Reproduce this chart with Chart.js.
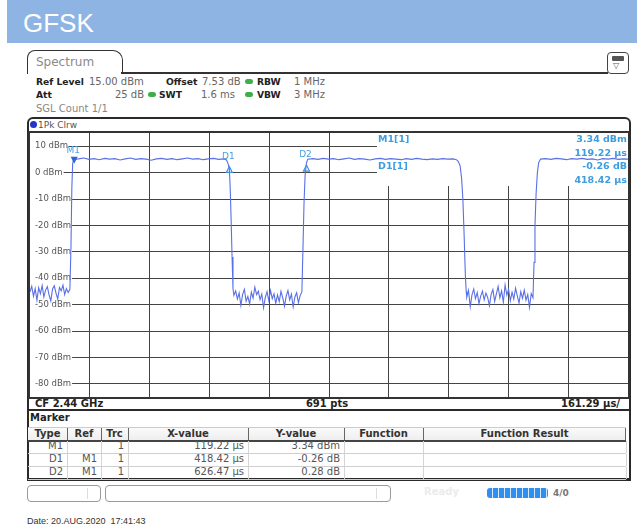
<!DOCTYPE html>
<html><head><meta charset="utf-8">
<script src="https://cdn.jsdelivr.net/npm/chart.js@4.4.1/dist/chart.umd.min.js"></script>
<style>
html,body{margin:0;padding:0;background:#fff;}
body{width:637px;height:531px;position:relative;overflow:hidden;font-family:"DejaVu Sans",sans-serif;}
.a{position:absolute;white-space:nowrap;line-height:12px;height:12px;font-size:10px;color:#666;}
.b{font-weight:bold;color:#222;}
.h{font-size:9.2px;}
.dot{position:absolute;width:8px;height:5px;border-radius:3px;background:#3fae4a;}
.box{position:absolute;box-sizing:border-box;}
</style></head>
<body>
<div class="box" style="left:7px;top:0;width:630px;height:43px;background:#8eb4e3"></div>
<div class="a" style="left:23px;top:9px;height:28px;line-height:28px;font-family:'Liberation Sans',Arial,sans-serif;font-size:26px;color:#fff">GFSK</div>

<div class="box" style="left:27px;top:50px;width:96px;height:24px;border:1.5px solid #333;border-bottom:none;border-radius:8px 10px 0 0"></div>
<div class="a" style="left:36px;top:55px;font-size:12px;line-height:14px;height:14px;color:#8a8a8a">Spectrum</div>
<div class="box" style="left:121px;top:72px;width:487px;height:1.5px;background:#333"></div>
<div class="box" style="left:607px;top:52px;width:22px;height:22px;border:1.5px solid #444;border-radius:4px"></div>
<div class="box" style="left:612px;top:56px;width:12px;height:5px;background:#555;border-radius:1px"></div>
<div class="a" style="left:613px;top:60px;font-size:8px;color:#555">▽</div>

<div class="a b h" style="left:36px;top:76px">Ref Level</div>
<div class="a" style="left:89px;top:76px">15.00 dBm</div>
<div class="a b h" style="left:166px;top:76px">Offset</div>
<div class="a" style="left:202px;top:76px">7.53 dB</div>
<div class="dot" style="left:245px;top:79px"></div>
<div class="a b h" style="left:257px;top:76px">RBW</div>
<div class="a" style="left:294px;top:76px">1 MHz</div>

<div class="a b h" style="left:36px;top:89px">Att</div>
<div class="a" style="left:114px;top:89px;width:30px;text-align:right">25 dB</div>
<div class="dot" style="left:148px;top:92px"></div>
<div class="a b h" style="left:159px;top:89px">SWT</div>
<div class="a" style="left:201px;top:89px">1.6 ms</div>
<div class="dot" style="left:245px;top:92px"></div>
<div class="a b h" style="left:257px;top:89px">VBW</div>
<div class="a" style="left:294px;top:89px">3 MHz</div>

<div class="a" style="left:36px;top:103px;color:#888">SGL Count 1/1</div>

<div class="box" style="left:27px;top:117px;width:604px;height:364px;border:2px solid #2a2a2a;border-bottom-width:3px;border-radius:6px 6px 0 0"></div>
<div class="box" style="left:30px;top:121px;width:7px;height:7px;border-radius:50%;background:#2236c8"></div>
<div class="a" style="left:38px;top:119px;font-size:9px;color:#555">1Pk Clrw</div>

<div class="box" style="left:28px;top:131px;width:602px;height:268px;border:2px solid #333"></div>
<div class="box" style="left:30px;top:133px;width:598px;height:264px"><canvas id="c" width="598" height="264"></canvas></div>

<div class="a b" style="left:35px;top:398px">CF 2.44 GHz</div>
<div class="a b" style="left:287px;top:398px;width:80px;text-align:center">691 pts</div>
<div class="a b" style="left:520px;top:398px;width:100px;text-align:right">161.29 µs/</div>
<div class="box" style="left:28px;top:409px;width:602px;height:2px;background:#2a2a2a"></div>
<div class="a b" style="left:30px;top:412px">Marker</div>
<div id="tbl"></div>

<div class="box" style="left:27px;top:485px;width:74px;height:17px;border:1px solid #9a9a9a;border-radius:4px"></div>
<div class="box" style="left:87px;top:488px;width:1px;height:11px;background:#ddd"></div>
<div class="box" style="left:105px;top:485px;width:286px;height:17px;border:1px solid #9a9a9a;border-radius:4px"></div>
<div class="box" style="left:376px;top:488px;width:1px;height:11px;background:#ddd"></div>
<div class="a b" style="left:424px;top:486px;color:#ececec">Ready</div>
<div class="box" style="left:487px;top:488px;width:61px;height:10px;border-radius:3px;background:repeating-linear-gradient(90deg,#2f8ff0 0,#2f8ff0 5px,#d6e8fb 5px,#d6e8fb 6px)"></div>
<div class="a b" style="left:553px;top:487px;font-size:9px;color:#777">4/0</div>

<div class="a" style="left:27px;top:515px;font-family:'Liberation Sans',Arial,sans-serif;font-size:9px;color:#333">Date: 20.AUG.2020&nbsp; 17:41:43</div>

<script>
// ---- data ----
const sweepUs = 1612.9;                 // 10 div x 161.29 us
const timeGridUs = [161.29, 322.58, 483.87, 645.16, 806.45, 967.74, 1129.03, 1290.32, 1451.61];
const levelTicksDbm = [10, 0, -10, -20, -30, -40, -50, -60, -70, -80];
const refLevelDbm = 15, bottomLevelDbm = -85;

// trace samples: [time us, level dBm]
const traceSamples = [
 [0,-45.2],[4.7,-43.1],[9.4,-46.8],[14,-44.0],[18.7,-48.3],[23.4,-43.6],[28,-45.9],[32.7,-42.8],
 [37.4,-47.1],[42,-44.5],[46.8,-43.2],[51.5,-46.4],[56.1,-48.6],[60.8,-44.1],[65.5,-42.9],[70.2,-45.7],
 [74.8,-47.9],[79.5,-43.5],[84.2,-44.8],[88.9,-42.6],[93.5,-46.2],[98.2,-43.9],[102.9,-45.4],[107.6,-44.2],
 [110.5,-28],[112.8,-6],[115.1,3.4],[117.5,5.0],
 [131,5.2],[145,5.5],[159,5.0],[173,5.3],[187,4.9],[201,5.4],[215,5.1],[229,5.3],[243,4.8],[257,5.2],
 [271,5.5],[285,5.0],[299,5.3],[313,5.1],[327,4.7],[341,5.2],[355,5.4],[369,5.0],[383,5.3],[397,4.9],
 [411,5.2],[425,5.5],[439,5.1],[453,5.3],[467,4.9],[481,5.2],[495,5.4],[509,5.0],[523,5.2],[530,4.8],
 [534,3.5],[537.6,1.5],[540,-6],[542.5,-18],[545,-32],[547.5,-44],
 [550,-46.5],[554.7,-44.8],[559.4,-47.9],[564,-45.6],[568.8,-50.3],[573.5,-46.1],[578.2,-44.2],[582.9,-48.7],
 [587.6,-46.9],[592.3,-49.8],[597,-45.3],[601.7,-47.6],[606.4,-43.4],[611.1,-46.2],[615.8,-44.9],[620.5,-48.1],
 [625.2,-46.0],[629.9,-51.2],[634.6,-47.3],[639.3,-45.1],[644,-48.4],[648.7,-44.6],[653.4,-47.8],[658.1,-45.9],
 [662.8,-49.5],[667.5,-46.3],[672.2,-48.9],[676.9,-45.0],[681.6,-47.4],[686.3,-50.6],[691,-46.8],[695.7,-44.7],
 [700.4,-48.2],[705.1,-46.0],[709.8,-50.9],[714.5,-47.1],[719.2,-45.5],[723.9,-49.3],[728.6,-46.6],[733.3,-45.2],
 [736,-30],[739,-12],[742,-1],[745.5,3.6],[749,5.1],
 [763,5.3],[777,5.0],[791,5.4],[805,5.1],[819,5.3],[833,4.9],[847,5.2],[861,5.5],[875,5.0],[889,5.3],
 [903,5.1],[917,4.8],[931,5.2],[945,5.4],[959,5.0],[973,5.3],[987,5.1],[1001,4.9],[1015,5.3],[1029,5.0],
 [1043,5.4],[1057,5.1],[1071,4.9],[1085,5.2],[1099,5.0],[1113,5.3],[1127,5.1],[1141,5.2],[1150,4.9],
 [1155,4.3],[1160,2.6],[1164,-2],[1167.5,-10],[1171,-24],[1174,-38],[1176.5,-45],
 [1178,-47.2],[1182.7,-44.6],[1187.4,-50.8],[1192.1,-46.3],[1196.8,-44.1],[1201.5,-47.7],[1206.2,-45.4],[1210.9,-49.6],
 [1215.6,-46.8],[1220.3,-44.9],[1225,-48.2],[1229.7,-45.6],[1234.4,-47.3],[1239.1,-50.4],[1243.8,-46.1],[1248.5,-44.3],
 [1253.2,-48.8],[1257.9,-45.9],[1262.6,-43.1],[1267.3,-47.5],[1272,-44.8],[1276.7,-49.1],[1281.4,-42.6],[1286.1,-46.4],
 [1290.8,-44.2],[1295.5,-48.6],[1300.2,-45.3],[1304.9,-47.9],[1309.6,-43.8],[1314.3,-46.7],[1319,-49.4],[1323.7,-45.1],
 [1328.4,-47.6],[1333.1,-44.5],[1337.8,-48.3],[1342.5,-46.2],[1347.2,-51.0],[1351.9,-45.8],[1356.6,-47.4],
 [1359.5,-34],[1362,-20],[1365,-8],[1368.5,0],[1372,3.8],[1377,5.1],
 [1391,5.3],[1405,5.0],[1419,5.4],[1433,5.2],[1447,4.9],[1461,5.3],[1475,5.1],[1489,5.4],[1503,5.0],
 [1517,5.2],[1531,4.8],[1545,5.3],[1559,5.1],[1573,5.4],[1587,5.0],[1601,5.2],[1612.9,5.1]
];

// marker table
const mkType  = ['M1', 'D1', 'D2'];
const mkRef   = ['', 'M1', 'M1'];
const mkTrc   = ['1', '1', '1'];
const mkXus   = [119.22, 418.42, 626.47];
const mkYval  = [3.34, -0.26, 0.28];
const mkYunit = ['dBm', 'dB', 'dB'];
const tableHeaders = ['Type', 'Ref', 'Trc', 'X-value', 'Y-value', 'Function', 'Function Result'];
const readoutLabels = ['M1[1]', 'D1[1]'];
const readoutValues = ['3.34 dBm', '119.22 µs', '-0.26 dB', '418.42 µs'];

// ---- table ----
(function(){
  const cols = [28, 67, 101, 128, 248, 344, 423, 626];
  const tbl = document.getElementById('tbl');
  const add = (html) => tbl.insertAdjacentHTML('beforeend', html);
  add(`<div class="box" style="left:28px;top:427px;width:598px;height:13px;background:linear-gradient(#fafafa,#eee);border-top:1px solid #ccc"></div>`);
  add(`<div class="box" style="left:28px;top:440px;width:598px;height:1.5px;background:#444"></div>`);
  tableHeaders.forEach((h, i) => {
    add(`<div class="a b" style="left:${cols[i]}px;top:428px;width:${cols[i+1]-cols[i]}px;text-align:center;color:#333">${h}</div>`);
    if (i > 0) add(`<div class="box" style="left:${cols[i]}px;top:428px;width:1.2px;height:12px;background:#666"></div>`);
  });
  add(`<div class="box" style="left:625px;top:428px;width:1.2px;height:12px;background:#666"></div>`);
  const fmt = v => v.toFixed(2);
  mkType.forEach((t, r) => {
    const top = 440 + r * 13;
    const cells = [t, mkRef[r], mkTrc[r], fmt(mkXus[r]) + ' µs', fmt(mkYval[r]) + ' ' + mkYunit[r], '', ''];
    cells.forEach((c, i) => {
      if (c) add(`<div class="a" style="left:${cols[i]}px;top:${top}px;width:${cols[i+1]-cols[i]-4}px;text-align:right;color:#555">${c}</div>`);
    });
    add(`<div class="box" style="left:28px;top:${top+12.5}px;width:598px;height:1px;background:#cfcfcf"></div>`);
    cols.forEach((x, i) => { if (i > 0) add(`<div class="box" style="left:${x}px;top:${top+1}px;width:1px;height:12px;background:#d4d4d4"></div>`); });
  });
})();

// ---- chart ----
const markerTimes = [mkXus[0], mkXus[0] + mkXus[1], mkXus[0] + mkXus[2]];
const markerLevels = [mkYval[0], mkYval[0] + mkYval[1], mkYval[0] + mkYval[2]];

const overlay = {
  id: 'overlay',
  beforeDatasetsDraw(chart) {
    const {ctx, chartArea: a} = chart;
    ctx.save();
    ctx.fillStyle = '#fff';
    ctx.fillRect(a.left + 347, a.top, a.right - a.left - 347, 53);
    ctx.fillStyle = '#3d9de0';
    ctx.font = 'bold 9.5px "DejaVu Sans"';
    ctx.textBaseline = 'middle';
    ctx.textAlign = 'left';
    ctx.fillText(readoutLabels[0], a.left + 348, a.top + 7);
    ctx.fillText(readoutLabels[1], a.left + 348, a.top + 34);
    ctx.textAlign = 'right';
    readoutValues.forEach((s, i) => ctx.fillText(s, a.right - 1, a.top + 7 + i * 13.4));
    ctx.restore();
  },
  afterDatasetsDraw(chart) {
    const {ctx, scales: {x, y}} = chart;
    ctx.save();
    ctx.font = '9px "DejaVu Sans"';
    ctx.textAlign = 'center';
    ctx.textBaseline = 'middle';
    mkType.forEach((n, i) => {
      const px = x.getPixelForValue(markerTimes[i]);
      const py = y.getPixelForValue(markerLevels[i]);
      ctx.beginPath();
      if (i === 0) {
        ctx.fillStyle = '#2f64d8';
        ctx.moveTo(px - 3.5, py - 7); ctx.lineTo(px + 3.5, py - 7); ctx.lineTo(px, py);
        ctx.closePath(); ctx.fill();
        ctx.fillStyle = '#4aa0e0';
        ctx.fillText(n, px - 1, py - 13);
      } else {
        ctx.strokeStyle = '#3f8ee0'; ctx.lineWidth = 1.2;
        ctx.moveTo(px - 3, py + 8); ctx.lineTo(px + 3, py + 8); ctx.lineTo(px, py + 2);
        ctx.closePath(); ctx.stroke();
        ctx.fillStyle = '#4aa0e0';
        ctx.fillText(n, px - 1, py - 8);
      }
    });
    ctx.restore();
  }
};

const gridOpts = {color: '#444', lineWidth: 1, drawTicks: false, tickLength: 0};
new Chart(document.getElementById('c'), {
  type: 'line',
  data: {datasets: [{
    data: traceSamples.map(p => ({x: p[0], y: p[1]})),
    borderColor: '#5a70e6', borderWidth: 1.1, pointRadius: 0, tension: 0, fill: false
  }]},
  options: {
    responsive: false, animation: false, events: [],
    layout: {padding: 0},
    plugins: {legend: {display: false}, tooltip: {enabled: false}},
    scales: {
      x: {
        type: 'linear', min: 0, max: sweepUs,
        afterBuildTicks: s => { s.ticks = timeGridUs.map(v => ({value: v})); },
        afterFit: s => { s.height = 0; s.paddingLeft = 0; s.paddingRight = 0; },
        ticks: {display: false}, grid: gridOpts, border: {display: false}
      },
      y: {
        type: 'linear', min: bottomLevelDbm, max: refLevelDbm,
        afterBuildTicks: s => { s.ticks = levelTicksDbm.map(v => ({value: v})); },
        afterFit: s => { s.width = 0; s.paddingTop = 0; s.paddingBottom = 0; },
        ticks: {
          mirror: true, padding: 5, color: '#555',
          font: {family: 'DejaVu Sans', size: 8.5},
          callback: v => v + ' dBm',
          showLabelBackdrop: true, backdropColor: '#fff',
          backdropPadding: {left: 6, right: 1, top: 0, bottom: 0}
        },
        grid: gridOpts, border: {display: false}
      }
    }
  },
  plugins: [overlay]
});
</script>
</body></html>
